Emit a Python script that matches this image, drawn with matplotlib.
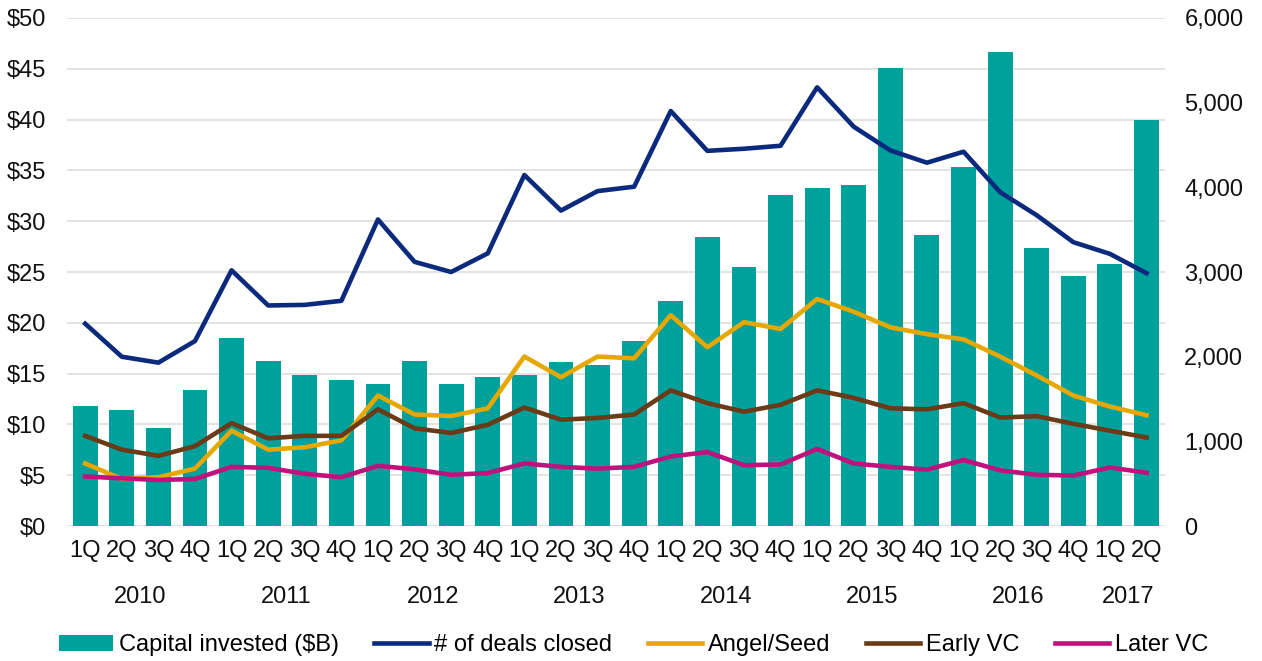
import matplotlib.pyplot as plt
import numpy as np

plt.rcParams['font.family'] = ['Liberation Sans', 'DejaVu Sans']

quarters = ['1Q', '2Q', '3Q', '4Q'] * 7 + ['1Q', '2Q']
years = ['2010', '2011', '2012', '2013', '2014', '2015', '2016', '2017']

capital = [11.8, 11.4, 9.7, 13.4, 18.5, 16.2, 14.9, 14.4, 14.0, 16.2,
           14.0, 14.7, 14.9, 16.1, 15.9, 18.2, 22.1, 28.4, 25.5, 32.6,
           33.3, 33.6, 45.1, 28.6, 35.3, 46.6, 27.4, 24.6, 25.8, 40.0]
deals = [2390, 2000, 1930, 2185, 3020, 2605, 2612, 2660, 3620, 3120,
         3000, 3220, 4145, 3725, 3955, 4007, 4900, 4430, 4455, 4490,
         5180, 4715, 4435, 4290, 4420, 3942, 3670, 3352, 3214, 2986]
angel = [740, 557, 578, 680, 1127, 903, 932, 1013, 1542, 1318,
         1300, 1391, 2002, 1758, 2002, 1981, 2490, 2112, 2408, 2327,
         2681, 2531, 2347, 2266, 2205, 2002, 1778, 1542, 1412, 1310]
early = [1066, 903, 830, 944, 1216, 1037, 1066, 1066, 1379, 1155,
         1100, 1196, 1400, 1257, 1277, 1318, 1603, 1452, 1351, 1432,
         1603, 1514, 1391, 1379, 1452, 1282, 1298, 1208, 1127, 1046]
later = [586, 565, 545, 557, 700, 688, 618, 578, 712, 671,
         606, 627, 740, 700, 679, 700, 822, 875, 720, 728,
         911, 740, 700, 667, 781, 659, 606, 598, 692, 631]

teal = '#00A19C'
navy = '#0B2A7E'
gold = '#E6A800'
brown = '#6B3A16'
magenta = '#C0127C'
fs = 17

fig = plt.figure(figsize=(12.62, 6.61), dpi=100)
ax = fig.add_axes([0.053, 0.204, 0.870, 0.769])
ax2 = ax.twinx()

x = np.arange(len(capital))
bars = ax.bar(x, capital, width=0.68, color=teal, label='Capital invested ($B)', zorder=2)
ax.set_xlim(-0.5, len(capital) - 0.5)
ax.set_ylim(0, 50)
ax.set_yticks(np.arange(0, 51, 5))
ax.set_yticklabels(['$%d' % v for v in range(0, 51, 5)])
ax.yaxis.grid(True, color='#E0DED8', lw=1.2, zorder=0)
ax.set_axisbelow(True)

l1, = ax2.plot(x, deals, color=navy, lw=3.3, label='# of deals closed')
l2, = ax2.plot(x, angel, color=gold, lw=3.3, label='Angel/Seed')
l3, = ax2.plot(x, early, color=brown, lw=3.3, label='Early VC')
l4, = ax2.plot(x, later, color=magenta, lw=3.3, label='Later VC')
ax2.set_ylim(0, 6000)
ax2.set_yticks(np.arange(0, 6001, 1000))
ax2.set_yticklabels(['{:,}'.format(v) for v in range(0, 6001, 1000)])

for a in (ax, ax2):
    for s in a.spines.values():
        s.set_visible(False)
    a.tick_params(length=0, labelsize=fs, colors='#111111')
ax.tick_params(axis='y', pad=15)
ax2.tick_params(axis='y', pad=14)

ax.set_xticks(x)
ax.set_xticklabels(quarters)
ax.tick_params(axis='x', pad=10)

# year labels centred under their quarters
for i, yr in enumerate(years):
    start = i * 4
    end = min(start + 3, len(capital) - 1)
    ax.text((start + end) / 2, -0.14, yr, transform=ax.get_xaxis_transform(),
            ha='center', va='center', fontsize=fs, color='#111111')

fig.legend(handles=[bars, l1, l2, l3, l4], loc='center', bbox_to_anchor=(0.502, 0.024),
           ncol=5, frameon=False, fontsize=fs, handlelength=2.3,
           handletextpad=0.25, columnspacing=1.5)

fig.savefig('out.png', dpi=100)
